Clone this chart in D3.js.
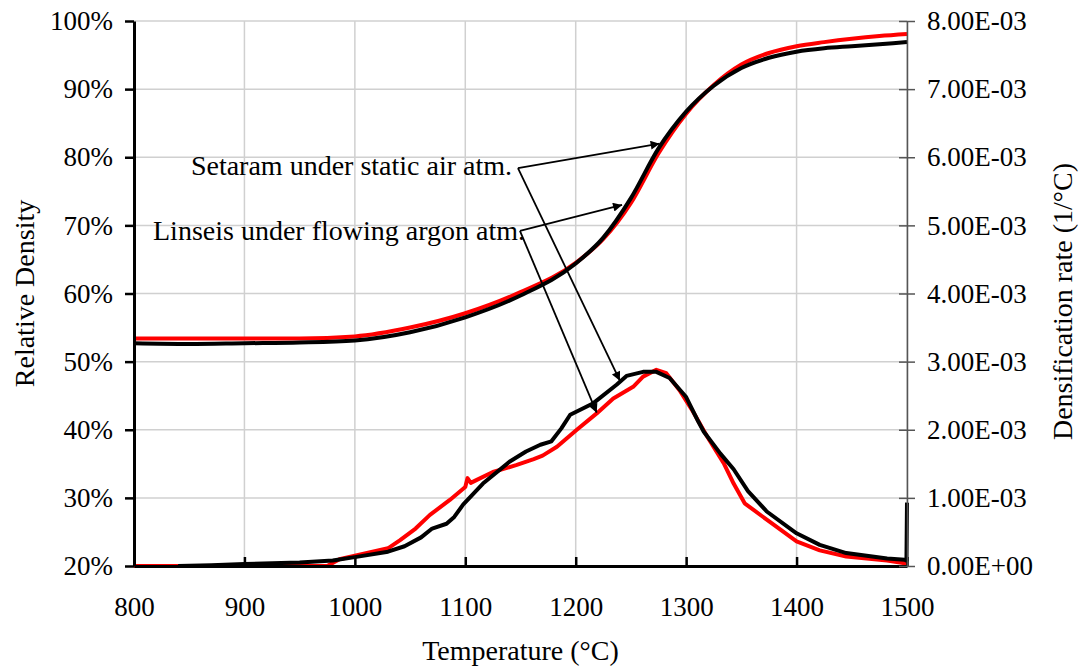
<!DOCTYPE html>
<html>
<head>
<meta charset="utf-8">
<script src="https://cdn.jsdelivr.net/npm/d3@7"></script>
<style>
  body { margin: 0; background: #fff; }
  svg { display: block; font-family: "Liberation Serif", "Times New Roman", serif; }
</style>
</head>
<body>
<div id="chart"></div>
<script>
const width = 1081;
const height = 667;
const margin = {top: 21, right: 174, bottom: 101, left: 134};

// relative density (left axis, %)
const densTemps = [800, 850, 900, 950, 1000, 1050, 1100, 1150, 1200, 1225, 1250, 1275, 1300, 1325, 1350, 1375, 1400, 1425, 1450, 1475, 1500];
const densSetaram = [52.7, 52.6, 52.7, 52.8, 53.1, 54.3, 56.5, 59.7, 64.4, 68.2, 74.0, 81.3, 86.7, 90.5, 93.1, 94.6, 95.5, 96.0, 96.3, 96.6, 96.9];
const densLinseis = [53.4, 53.4, 53.4, 53.4, 53.7, 55.0, 57.1, 60.2, 64.5, 68.0, 73.3, 80.6, 86.4, 90.6, 93.6, 95.3, 96.3, 96.9, 97.4, 97.8, 98.1];

// densification rate (right axis, 1/°C)
const rateSetaramT = [840, 870, 900, 950, 980, 1000, 1030, 1045, 1060, 1070, 1083, 1090, 1098, 1116, 1140, 1155, 1168, 1178, 1187, 1195, 1216, 1237, 1246, 1261, 1273, 1285, 1300, 1311, 1316, 1331, 1343, 1356, 1373, 1400, 1421, 1445, 1482, 1498, 1499.5, 1500];
const rateSetaram = [0.0, 0.01, 0.03, 0.05, 0.08, 0.13, 0.21, 0.29, 0.42, 0.55, 0.62, 0.72, 0.90, 1.21, 1.53, 1.68, 1.78, 1.83, 2.02, 2.22, 2.39, 2.66, 2.79, 2.85, 2.85, 2.76, 2.48, 2.12, 1.97, 1.65, 1.42, 1.10, 0.80, 0.48, 0.31, 0.19, 0.11, 0.09, 0.08, 0.93].map(v => v * 1e-3);

const rateLinseisT = [800, 840, 900, 940, 975, 986, 1000, 1030, 1041, 1055, 1068, 1086, 1100, 1102, 1105, 1110, 1125, 1146, 1162, 1170, 1183, 1201, 1219, 1234, 1252, 1261, 1273, 1282, 1294, 1305, 1319, 1334, 1343, 1353, 1373, 1400, 1421, 1445, 1482, 1498, 1500];
const rateLinseis = [0.0, 0.0, 0.0, 0.0, 0.0, 0.10, 0.15, 0.26, 0.38, 0.55, 0.75, 0.97, 1.16, 1.29, 1.22, 1.26, 1.38, 1.48, 1.57, 1.62, 1.75, 2.00, 2.24, 2.46, 2.63, 2.78, 2.88, 2.83, 2.58, 2.30, 1.90, 1.51, 1.21, 0.92, 0.68, 0.36, 0.23, 0.14, 0.08, 0.04, 0.02].map(v => v * 1e-3);

const xTicks = [800, 900, 1000, 1100, 1200, 1300, 1400, 1500];
const leftTicks = [20, 30, 40, 50, 60, 70, 80, 90, 100];
const rightTicks = [0, 0.001, 0.002, 0.003, 0.004, 0.005, 0.006, 0.007, 0.008];

// annotations: label anchor (T, %) and arrow tips
const annotations = [
    {text: "Setaram under static air atm.", anchor: [1147.7, 78.4], textAt: [512, 175],
     tips: [{T: 1276, dens: 82.0}, {T: 1240, rate: 2.72e-3}]},
    {text: "Linseis under flowing argon atm.", anchor: [1149.5, 69.2], textAt: [153, 240],
     tips: [{T: 1242, dens: 73.0}, {T: 1219, rate: 2.25e-3}]}
];

const svg = d3.create("svg")
    .attr("width", width)
    .attr("height", height);

const x = d3.scaleLinear()
    .domain([800, 1500])
    .range([margin.left, width - margin.right]);

const yL = d3.scaleLinear()
    .domain([20, 100])
    .range([height - margin.bottom, margin.top]);

const yR = d3.scaleLinear()
    .domain([0, 0.008])
    .range([height - margin.bottom, margin.top]);

// grid
svg.append("g")
    .selectAll("line.v")
    .data(xTicks.slice(1))
    .join("line")
    .attr("x1", d => x(d)).attr("x2", d => x(d))
    .attr("y1", yL(20)).attr("y2", yL(100))
    .attr("stroke", "#d0d0d0")
    .attr("stroke-width", 1.5);

svg.append("g")
    .selectAll("line.h")
    .data(leftTicks.slice(1))
    .join("line")
    .attr("x1", x(800)).attr("x2", x(1500))
    .attr("y1", d => yL(d)).attr("y2", d => yL(d))
    .attr("stroke", "#d0d0d0")
    .attr("stroke-width", 1.5);

// curves
const densLine = d3.line().x((d, i) => x(densTemps[i])).y(d => yL(d)).curve(d3.curveMonotoneX);

svg.append("path").datum(densLinseis)
    .attr("d", densLine).attr("fill", "none")
    .attr("stroke", "#ff0000").attr("stroke-width", 4);

svg.append("path").datum(densSetaram)
    .attr("d", densLine).attr("fill", "none")
    .attr("stroke", "#000").attr("stroke-width", 4);

const rateLine = temps => d3.line().x((d, i) => x(temps[i])).y(d => yR(d)).curve(d3.curveLinear);

svg.append("path").datum(rateLinseis)
    .attr("d", rateLine(rateLinseisT)).attr("fill", "none")
    .attr("stroke", "#ff0000").attr("stroke-width", 4)
    .attr("stroke-linejoin", "round");

svg.append("path").datum(rateSetaram)
    .attr("d", rateLine(rateSetaramT)).attr("fill", "none")
    .attr("stroke", "#000").attr("stroke-width", 4)
    .attr("stroke-linejoin", "round");

// axes
const fontSize = "27px";

const xAxis = svg.append("g")
    .attr("transform", `translate(0,${height - margin.bottom})`)
    .call(d3.axisBottom(x).tickValues(xTicks).tickFormat(d3.format("d"))
        .tickSizeInner(-9).tickSizeOuter(0).tickPadding(31));
xAxis.select(".domain").attr("stroke", "#000").attr("stroke-width", 3);
xAxis.selectAll(".tick line").attr("stroke", "#000").attr("stroke-width", 2.5);
xAxis.selectAll("text").attr("font-size", fontSize).attr("font-family", "Liberation Serif").attr("fill", "#000");

const leftAxis = svg.append("g")
    .attr("transform", `translate(${margin.left},0)`)
    .call(d3.axisLeft(yL).tickValues(leftTicks).tickFormat(d => d + "%").tickSizeInner(9).tickSizeOuter(0).tickPadding(12));
leftAxis.select(".domain").attr("stroke", "#000").attr("stroke-width", 3);
leftAxis.selectAll(".tick line").attr("stroke", "#000").attr("stroke-width", 2.5);
leftAxis.selectAll("text").attr("font-size", fontSize).attr("font-family", "Liberation Serif").attr("fill", "#000");

const rightAxis = svg.append("g")
    .attr("transform", `translate(${width - margin.right},0)`)
    .call(d3.axisRight(yR).tickValues(rightTicks)
        .tickFormat(d => d.toExponential(2).toUpperCase().replace(/E([+-])(\d)$/, "E$10$2"))
        .tickSizeInner(8).tickSizeOuter(0).tickPadding(12));
rightAxis.select(".domain").attr("stroke", "#555").attr("stroke-width", 1.5);
rightAxis.selectAll(".tick line").attr("stroke", "#555").attr("stroke-width", 1.5).attr("x1", -8);
rightAxis.selectAll("text").attr("font-size", fontSize).attr("font-family", "Liberation Serif").attr("fill", "#000");

// titles
svg.append("text")
    .attr("x", (x(800) + x(1500)) / 2)
    .attr("y", 660)
    .attr("text-anchor", "middle")
    .attr("font-size", "28px")
    .text("Temperature (°C)");

svg.append("text")
    .attr("transform", `translate(34,${(yL(20) + yL(100)) / 2}) rotate(-90)`)
    .attr("text-anchor", "middle")
    .attr("font-size", "28px")
    .text("Relative Density");

svg.append("text")
    .attr("transform", `translate(1072,${(yL(20) + yL(100)) / 2 + 8}) rotate(-90)`)
    .attr("text-anchor", "middle")
    .attr("font-size", "28px")
    .text("Densification rate (1/°C)");

// arrows
svg.append("defs").append("marker")
    .attr("id", "arrow")
    .attr("viewBox", "0 0 10 10")
    .attr("refX", 10).attr("refY", 5)
    .attr("markerWidth", 12).attr("markerHeight", 9)
    .attr("markerUnits", "userSpaceOnUse")
    .attr("orient", "auto")
    .append("path")
    .attr("d", "M0,0 L10,5 L0,10 z")
    .attr("fill", "#000");

annotations.forEach(a => {
    const ax = x(a.anchor[0]);
    const ay = yL(a.anchor[1]);
    a.tips.forEach(t => {
        const tx = x(t.T);
        const ty = t.dens !== undefined ? yL(t.dens) : yR(t.rate);
        svg.append("line")
            .attr("x1", ax).attr("y1", ay)
            .attr("x2", tx).attr("y2", ty)
            .attr("stroke", "#000")
            .attr("stroke-width", 1.8)
            .attr("marker-end", "url(#arrow)");
    });
    svg.append("text")
        .attr("x", a.textAt[0])
        .attr("y", a.textAt[1])
        .attr("text-anchor", a.text.startsWith("Setaram") ? "end" : "start")
        .attr("font-size", "28px")
        .text(a.text);
});

d3.select("#chart").append(() => svg.node());
</script>
</body>
</html>
